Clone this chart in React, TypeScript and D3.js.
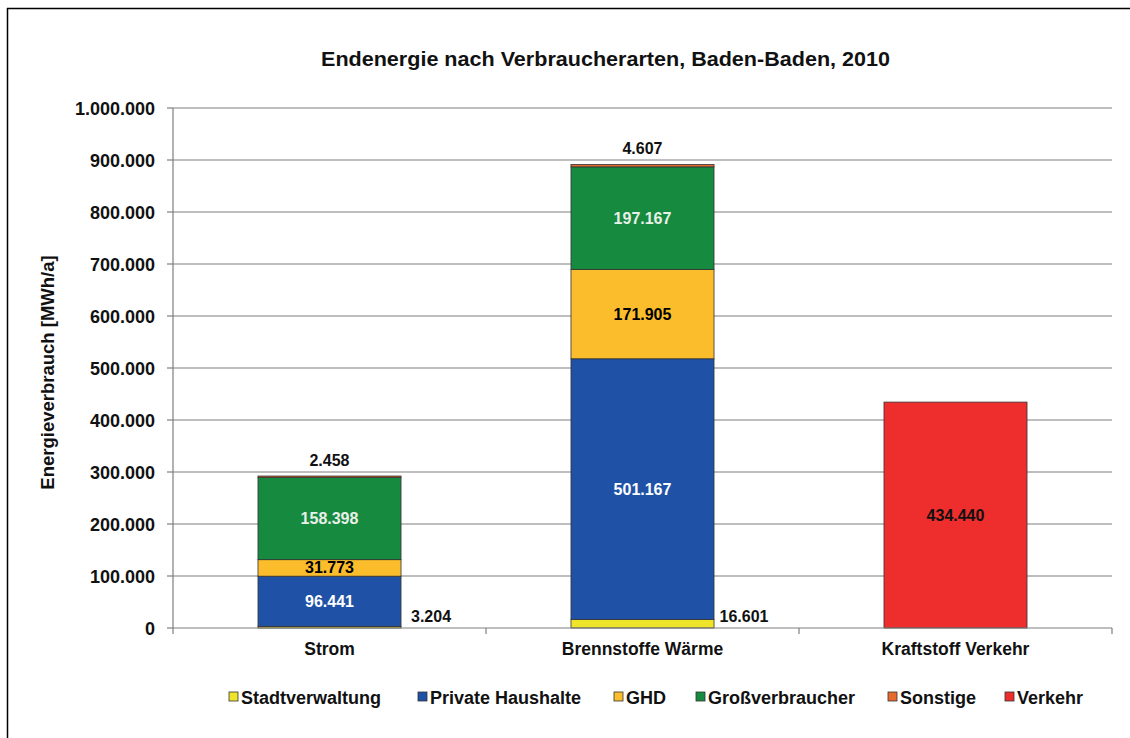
import React from "react";
import * as d3 from "d3";

const categories = ["Strom", "Brennstoffe Wärme", "Kraftstoff Verkehr"];
const seriesNames = ["Stadtverwaltung", "Private Haushalte", "GHD", "Großverbraucher", "Sonstige", "Verkehr"];
const seriesColors = ["#eee52a", "#1f52a6", "#fbbd2b", "#168a3f", "#e8692c", "#ee2d2d"];
const labelColors = ["#000", "#ffffff", "#000", "#e8f0e8", "#000", "#111"];
const stadtverwaltung = [3204, 16601, 0];
const privateHaushalte = [96441, 501167, 0];
const ghd = [31773, 171905, 0];
const grossverbraucher = [158398, 197167, 0];
const sonstige = [2458, 4607, 0];
const verkehr = [0, 0, 434440];
const yTicks = [0, 100000, 200000, 300000, 400000, 500000, 600000, 700000, 800000, 900000, 1000000];

// legend layout (text start x)
const legendX = [241, 430, 626, 708, 900, 1017];

const seriesValues = [stadtverwaltung, privateHaushalte, ghd, grossverbraucher, sonstige, verkehr];

const fmt = (v: number) => d3.format(",")(v).replace(/,/g, ".");

export default function App() {
  const W = 1130, H = 738;
  const left = 173, right = 1112, top = 108, bottom = 628;
  const x = d3.scaleBand().domain(categories).range([left, right]).paddingInner(0.543).paddingOuter(0.2715);
  const y = d3.scaleLinear().domain([0, 1000000]).range([bottom, top]);
  const rows = categories.map((c, i) => {
    const r: any = { cat: c };
    seriesNames.forEach((s, j) => (r[s] = seriesValues[j][i]));
    return r;
  });
  const stack = d3.stack().keys(seriesNames)(rows as any);
  const font = "'Liberation Sans', Arial, sans-serif";
  const bw = x.bandwidth();

  return (
    <svg width={W} height={H} style={{ position: "absolute", left: 0, top: 0, background: "#fff" }} fontFamily={font} fontWeight="bold">
      <rect x={0} y={0} width={W} height={H} fill="#fff" />
      <line x1={7.5} y1={8} x2={7.5} y2={H} stroke="#000" strokeWidth={1.5} />
      <line x1={7} y1={8.5} x2={W} y2={8.5} stroke="#000" strokeWidth={1.5} />
      <text x={605.5} y={66} textAnchor="middle" fontSize={21} fill="#111" textLength={569} lengthAdjust="spacingAndGlyphs">
        Endenergie nach Verbraucherarten, Baden-Baden, 2010
      </text>
      {yTicks.map((t) => (
        <g key={t}>
          {t > 0 && <line x1={left} x2={right} y1={y(t)} y2={y(t)} stroke="#7f7f7f" strokeWidth={1.2} />}
          <line x1={left - 6} x2={left} y1={y(t)} y2={y(t)} stroke="#7f7f7f" strokeWidth={1.2} />
          <text x={155} y={y(t) + 6.5} textAnchor="end" fontSize={18} fill="#111">
            {fmt(t)}
          </text>
        </g>
      ))}
      <line x1={left} x2={left} y1={top} y2={bottom} stroke="#7f7f7f" strokeWidth={1.2} />
      <text transform={`translate(54,${372.5}) rotate(-90)`} textAnchor="middle" fontSize={18.5} fill="#111">
        Energieverbrauch [MWh/a]
      </text>
      {stack.map((layer, j) =>
        layer.map((d: any, i: number) => {
          const v = d[1] - d[0];
          if (v <= 0) return null;
          return (
            <rect key={`${j}-${i}`} x={x(categories[i])!} width={bw} y={y(d[1])} height={y(d[0]) - y(d[1])}
              fill={seriesColors[j]} stroke="#333" strokeWidth={0.8} />
          );
        })
      )}
      <line x1={left} x2={right} y1={bottom} y2={bottom} stroke="#7f7f7f" strokeWidth={1.2} />
      {[0, 1, 2, 3].map((k) => {
        const xx = left + ((right - left) / 3) * k;
        return <line key={k} x1={xx} x2={xx} y1={bottom} y2={bottom + 6} stroke="#7f7f7f" strokeWidth={1.2} />;
      })}
      {stack.map((layer, j) =>
        layer.map((d: any, i: number) => {
          const v = d[1] - d[0];
          if (v <= 0) return null;
          const cx = x(categories[i])! + bw / 2;
          if (seriesNames[j] === "Stadtverwaltung") {
            return (
              <text key={`l${j}-${i}`} x={x(categories[i])! + bw + 30} y={622} textAnchor="middle" fontSize={16} fill="#111">
                {fmt(v)}
              </text>
            );
          }
          if (seriesNames[j] === "Sonstige") {
            return (
              <text key={`l${j}-${i}`} x={cx} y={y(d[1]) - 10} textAnchor="middle" fontSize={16} fill="#111">
                {fmt(v)}
              </text>
            );
          }
          return (
            <text key={`l${j}-${i}`} x={cx} y={(y(d[0]) + y(d[1])) / 2 + 5.5} textAnchor="middle" fontSize={16} fill={labelColors[j]}>
              {fmt(v)}
            </text>
          );
        })
      )}
      {categories.map((c) => (
        <text key={c} x={x(c)! + bw / 2} y={655} textAnchor="middle" fontSize={17.5} fill="#111">
          {c}
        </text>
      ))}
      {seriesNames.map((s, j) => (
        <g key={s}>
          <rect x={legendX[j] - 12} y={692} width={9} height={9} fill={seriesColors[j]} stroke="#333" strokeWidth={0.8} />
          <text x={legendX[j]} y={703.5} fontSize={18} fill="#111">
            {s}
          </text>
        </g>
      ))}
    </svg>
  );
}
